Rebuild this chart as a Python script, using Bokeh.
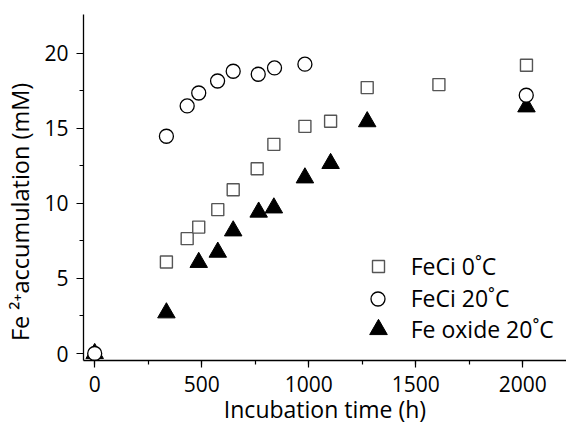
from bokeh.plotting import figure
from bokeh.models import (Range1d, SingleIntervalTicker, FixedTicker, Legend,
                          LegendItem)
from bokeh.embed import file_html
from bokeh.resources import INLINE

# ---- data ----
# FeCi 0 ˚C  (open squares)
sq_time = [335, 432, 486, 575, 647, 759, 837, 982, 1102, 1273, 1608, 2017]
sq_fe = [6.09, 7.65, 8.42, 9.58, 10.91, 12.31, 13.93, 15.13, 15.47, 17.71, 17.91, 19.2]
# FeCi 20 ˚C  (open circles)
ci_time = [0, 335, 432, 486, 574, 647, 764, 840, 982, 2016]
ci_fe = [0.0, 14.47, 16.49, 17.35, 18.15, 18.8, 18.6, 19.02, 19.27, 17.2]
# Fe oxide 20 ˚C  (filled triangles)
tr_time = [0, 335, 486, 575, 647, 766, 837, 982, 1102, 1273, 2017]
tr_fe = [0.0, 2.71, 6.07, 6.75, 8.17, 9.42, 9.7, 11.7, 12.66, 15.44, 16.43]

series_names = ["FeCi 0˚C", "FeCi 20˚C", "Fe oxide 20˚C"]
y_major = [0, 5, 10, 15, 20]
y_minor = [2.5, 7.5, 12.5, 17.5]
x_label = "Incubation time (h)"
y_label = "Fe \u00b2\u207aaccumulation (mM)"

FONT = "Open Sans"

p = figure(frame_width=483, frame_height=346, output_backend="svg",
           toolbar_location=None,
           x_range=Range1d(-52.3, 2204), y_range=Range1d(-0.466, 22.58),
           min_border_left=83, min_border_right=0, min_border_top=14,
           min_border_bottom=64)
p.grid.visible = False
p.outline_line_color = None
p.background_fill_color = "white"
p.border_fill_color = "white"

p.xaxis.ticker = SingleIntervalTicker(interval=500, num_minor_ticks=2)
p.yaxis.ticker = FixedTicker(ticks=y_major, minor_ticks=y_minor)

for ax in (p.xaxis[0], p.yaxis[0]):
    ax.axis_line_color = "black"
    ax.axis_line_width = 1.3
    ax.major_tick_line_color = "black"
    ax.minor_tick_line_color = "black"
    ax.major_tick_line_width = 1.2
    ax.minor_tick_line_width = 1.2
    ax.major_tick_in = 0
    ax.major_tick_out = 7
    ax.minor_tick_in = 0
    ax.minor_tick_out = 4
    ax.major_label_text_font = FONT
    ax.major_label_text_font_size = "21px"
    ax.major_label_text_color = "black"
    ax.axis_label_text_font = FONT
    ax.axis_label_text_font_style = "normal"
    ax.axis_label_text_color = "black"
p.xaxis.axis_label_text_font_size = "23px"
p.yaxis.axis_label_text_font_size = "23.5px"
p.xaxis.major_label_standoff = 8
p.yaxis.major_label_standoff = 8

p.xaxis.axis_label = x_label
p.xaxis.axis_label_standoff = -2
# trailing no-break spaces shift the visible title down like the reference
p.yaxis.axis_label = y_label + "\u00a0" * 8
p.yaxis.axis_label_standoff = 5

r_sq = p.scatter(sq_time, sq_fe, marker="square", size=12, fill_color="white",
                 line_color="#555555", line_width=1.4)
r_tr = p.scatter(tr_time, tr_fe, marker="triangle", size=17.5, fill_color="black",
                 line_color="black", line_width=1)
r_ci = p.scatter(ci_time, ci_fe, marker="circle", size=14, fill_color="white",
                 line_color="black", line_width=1.3)

def add_legend(name, rend, gw, loc, standoff):
    lg = Legend(items=[LegendItem(label=name, renderers=[rend])],
                location=loc, padding=0, margin=0, spacing=0,
                border_line_color=None, background_fill_alpha=0,
                glyph_width=gw, glyph_height=gw, label_height=gw,
                label_standoff=standoff, label_text_font=FONT,
                label_text_font_size="23px", label_text_color="black")
    p.add_layout(lg, "center")

add_legend(series_names[0], r_sq, 30, (279.7, 78.3), 18)
add_legend(series_names[1], r_ci, 35, (276.7, 44.2), 16)
add_legend(series_names[2], r_tr, 44, (272.7, 9.5), 11)

open("out.html", "w").write(file_html(p, INLINE))
